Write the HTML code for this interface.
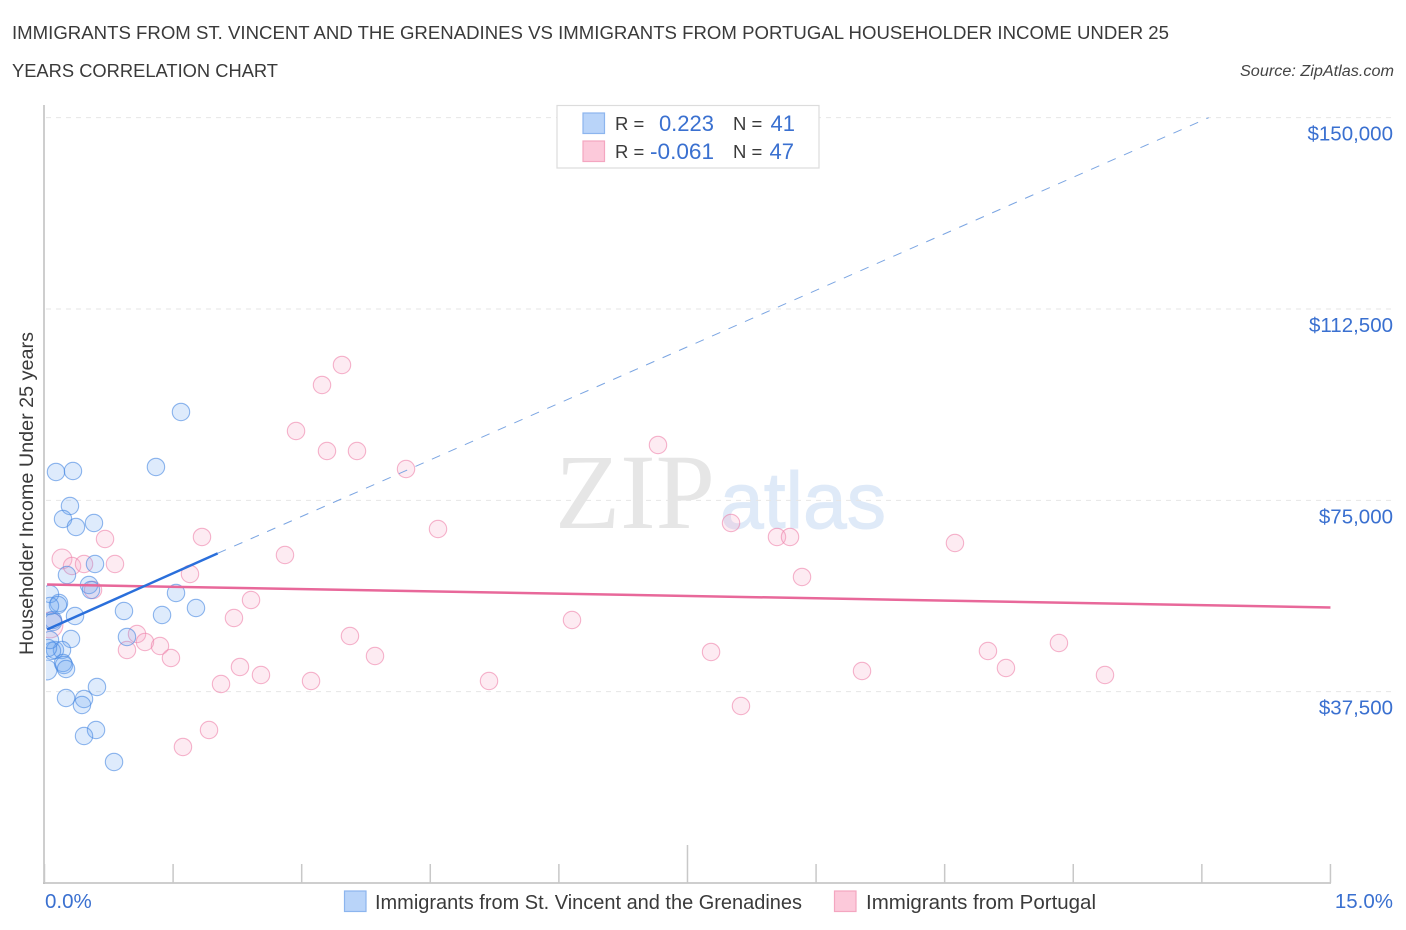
<!DOCTYPE html>
<html lang="en">
<head>
<meta charset="utf-8">
<title>Householder Income Under 25 Years Correlation Chart</title>
<style>
html,body{margin:0;padding:0;background:#fff;width:1406px;height:930px;overflow:hidden}
svg{display:block;font-family:"Liberation Sans",sans-serif}
</style>
</head>
<body>
<svg id="chart" width="1406" height="930" viewBox="0 0 1406 930" xmlns="http://www.w3.org/2000/svg">
  <defs>
    <clipPath id="plot-clip"><rect x="46" y="100" width="1350" height="783"/></clipPath>
  </defs>
  <rect width="1406" height="930" fill="#ffffff"/>
  <text x="12" y="39" font-size="18.5" fill="#3a3a3a" textLength="1157" lengthAdjust="spacingAndGlyphs">IMMIGRANTS FROM ST. VINCENT AND THE GRENADINES VS IMMIGRANTS FROM PORTUGAL HOUSEHOLDER INCOME UNDER 25</text>
  <text x="12" y="77" font-size="18.5" fill="#3a3a3a" textLength="266" lengthAdjust="spacingAndGlyphs">YEARS CORRELATION CHART</text>
  <text x="1394" y="76" font-size="15.5" font-style="italic" fill="#444" text-anchor="end" textLength="154" lengthAdjust="spacingAndGlyphs">Source: ZipAtlas.com</text>

  <text x="555" y="528" font-family="'Liberation Serif',serif" font-size="107" fill="#e6e6e6" textLength="160" lengthAdjust="spacingAndGlyphs">ZIP</text>
  <text x="720" y="528" font-size="80" fill="#dfeaf8" stroke="#dfeaf8" stroke-width="1" textLength="166" lengthAdjust="spacingAndGlyphs">atlas</text>

  <g id="grid"></g>
  <g id="axes"></g>
  <g id="marks" clip-path="url(#plot-clip)"></g>
  <g id="trends"></g>
  <g id="labels"></g>

  <text transform="translate(33,493.5) rotate(-90)" font-size="19" fill="#3a3a3a" text-anchor="middle" textLength="323" lengthAdjust="spacingAndGlyphs">Householder Income Under 25 years</text>

  <g>
    <rect x="557" y="105.500" width="262" height="62.500" fill="#fff" stroke="#dcdcdc" stroke-width="1.200"/>
    <rect x="583" y="113" width="21.500" height="20.500" fill="#b9d4f9" stroke="#8cb5ee" stroke-width="1.200"/>
    <rect x="583" y="141" width="21.500" height="20.500" fill="#fcc9da" stroke="#f4a6c0" stroke-width="1.200"/>
    <text x="615" y="130" font-size="18.500" fill="#3a3a3a">R =</text>
    <text x="714" y="131" font-size="22" fill="#3a70d0" text-anchor="end">0.223</text>
    <text x="733" y="130" font-size="18.500" fill="#3a3a3a">N =</text>
    <text x="795" y="131" font-size="22" fill="#3a70d0" text-anchor="end">41</text>
    <text x="615" y="158" font-size="18.500" fill="#3a3a3a">R =</text>
    <text x="650" y="159" font-size="22" fill="#3a70d0" textLength="64" lengthAdjust="spacingAndGlyphs">-0.061</text>
    <text x="733" y="158" font-size="18.500" fill="#3a3a3a">N =</text>
    <text x="794" y="159" font-size="22" fill="#3a70d0" text-anchor="end">47</text>
  </g>

  <g>
    <g>
      <rect x="344.500" y="891" width="21.500" height="20.500" fill="#b9d4f9" stroke="#8cb5ee" stroke-width="1.200"/>
      <text x="375" y="909" font-size="20" fill="#3a3a3a" textLength="427" lengthAdjust="spacingAndGlyphs">Immigrants from St. Vincent and the Grenadines</text>
    </g>
    <g>
      <rect x="834.500" y="891" width="21.500" height="20.500" fill="#fcc9da" stroke="#f4a6c0" stroke-width="1.200"/>
      <text x="866" y="909" font-size="20" fill="#3a3a3a" textLength="230" lengthAdjust="spacingAndGlyphs">Immigrants from Portugal</text>
    </g>
  </g>
</svg>
<script>
const yTicks = [150000, 112500, 75000, 37500];
const yTickLabels = ["$150,000", "$112,500", "$75,000", "$37,500"];
const xTicks = [0, 1.5, 3, 4.5, 6, 7.5, 9, 10.5, 12, 13.5, 15];
const xEndLabels = ["0.0%", "15.0%"];

const stVincentPct = [0.134,0.332,1.30,0.297,0.216,0.367,0.577,0.589,0.262,0.519,0.542,1.534,1.767,0.927,1.371,0.356,0.169,0.064,0.157,0.099,0.309,0.962,0.122,0.204,0.087,0.216,0.227,0.251,0.029,0.251,0.612,0.461,0.437,0.601,0.461,0.811,1.592,0.064,0.099,0.041,0.064];
const stVincentIncome = [80560,80750,81540,73890,71340,69780,70560,62520,60370,58410,57430,56840,53900,53310,52530,52330,54880,56640,54490,51550,47820,48220,45670,45670,45500,43120,42730,41940,41750,36260,38420,36060,34890,29990,28810,23720,92320,54300,51160,46060,47630];
const stVincentWeight = [1,1,1,1,1,1,1,1,1,1,1,1,1,1,1,1,1,1,1,1,1,1,1,1,1,1,1,1,1.3,1,1,1,1,1,1,1,1,1,1,1,1];

const portugalPct = [3.47,3.237,2.934,3.295,3.645,4.217,7.156,4.59,8.008,1.837,0.706,2.805,8.544,8.696,10.62,8.836,0.204,0.321,0.461,0.822,1.697,0.566,2.409,2.21,6.153,1.079,3.563,0.962,1.172,1.347,1.475,3.855,7.775,11.005,11.833,11.215,9.536,12.37,2.28,2.525,3.109,5.185,2.059,8.124,1.919,1.615,0.064];
const portugalIncome = [101530,97610,88590,84670,84670,81140,85850,69380,70560,67820,67420,64290,67820,67820,66640,59980,63500,62130,62520,62520,60560,57430,55470,51940,51550,48800,48410,45670,47240,46450,44100,44490,45280,45470,47040,42140,41550,40770,42340,40770,39590,39590,39000,34690,29990,26660,50570];
const portugalWeight = [1,1,1,1,1,1,1,1,1,1,1,1,1,1,1,1,1.3,1,1,1,1,1,1,1,1,1,1,1,1,1,1,1,1,1,1,1,1,1,1,1,1,1,1,1,1,1,2.2];

const stVincentTrendPct = [0.03, 2.02, 13.58];
const stVincentTrendIncome = [49690, 64610, 150000];
const portugalTrendPct = [0.03, 15];
const portugalTrendIncome = [58500, 54000];

const NS = "http://www.w3.org/2000/svg";
const xScale = (pct) => 44.5 + pct * 85.73;
const yScale = (income) => 883 - income * 0.0051022;

const gridGroup = document.getElementById("grid");
const axesGroup = document.getElementById("axes");
const marksGroup = document.getElementById("marks");
const trendsGroup = document.getElementById("trends");
const labelsGroup = document.getElementById("labels");

function makeLine(x1, y1, x2, y2, stroke, width, dash) {
  const el = document.createElementNS(NS, "line");
  el.setAttribute("x1", x1);
  el.setAttribute("y1", y1);
  el.setAttribute("x2", x2);
  el.setAttribute("y2", y2);
  el.setAttribute("stroke", stroke);
  el.setAttribute("stroke-width", width);
  if (dash) el.setAttribute("stroke-dasharray", dash);
  return el;
}

function makeText(x, y, content, anchor) {
  const el = document.createElementNS(NS, "text");
  el.setAttribute("x", x);
  el.setAttribute("y", y);
  el.setAttribute("font-size", "20.5");
  el.setAttribute("fill", "#3a70d0");
  el.setAttribute("text-anchor", anchor);
  el.textContent = content;
  return el;
}

yTicks.forEach((tick, i) => {
  const y = yScale(tick);
  const grid = makeLine(46, y, 1393, y, "#e6e6e6", 1, "5 5");
  
  
  gridGroup.appendChild(grid);
  const label = makeText(1393, y + 23, yTickLabels[i], "end");
  
  
  labelsGroup.appendChild(label);
});

const leftAxis = makeLine(44, 105, 44, 884, "#bdbdbd", 1.5);


axesGroup.appendChild(leftAxis);

const bottomAxis = makeLine(43, 883, 1331, 883, "#bdbdbd", 1.5);


axesGroup.appendChild(bottomAxis);

xTicks.forEach((tick) => {
  const x = xScale(tick);
  const top = tick === 7.5 ? 845 : 864;
  const mark = makeLine(x, top, x, 883, "#c8c8c8", 1.5);
  
  
  axesGroup.appendChild(mark);
});

const xStartLabel = makeText(45, 908, xEndLabels[0], "start");


labelsGroup.appendChild(xStartLabel);

const xEndLabel = makeText(1393, 908, xEndLabels[1], "end");


labelsGroup.appendChild(xEndLabel);

function drawPoints(pcts, incomes, weights, fill, stroke, name) {
  pcts.forEach((pct, i) => {
    const c = document.createElementNS(NS, "circle");
    c.setAttribute("cx", xScale(pct));
    c.setAttribute("cy", yScale(incomes[i]));
    c.setAttribute("r", 8.7 * Math.sqrt(weights[i]));
    c.setAttribute("fill", fill);
    c.setAttribute("stroke", stroke);
    c.setAttribute("stroke-width", "1.1");
    
    
    marksGroup.appendChild(c);
  });
}

drawPoints(portugalPct, portugalIncome, portugalWeight, "rgba(247,165,195,0.22)", "rgba(238,130,170,0.6)", "portugal-point");
drawPoints(stVincentPct, stVincentIncome, stVincentWeight, "rgba(105,165,240,0.22)", "rgba(70,135,225,0.6)", "st-vincent-point");

const portugalTrend = makeLine(xScale(portugalTrendPct[0]), yScale(portugalTrendIncome[0]), xScale(portugalTrendPct[1]), yScale(portugalTrendIncome[1]), "#e8689a", 2.5);


trendsGroup.appendChild(portugalTrend);

const stVincentSolid = makeLine(xScale(stVincentTrendPct[0]), yScale(stVincentTrendIncome[0]), xScale(stVincentTrendPct[1]), yScale(stVincentTrendIncome[1]), "#2a6fdb", 2.5);


trendsGroup.appendChild(stVincentSolid);

const stVincentDashed = makeLine(xScale(stVincentTrendPct[1]), yScale(stVincentTrendIncome[1]), xScale(stVincentTrendPct[2]), yScale(stVincentTrendIncome[2]), "#7ba5e2", 1, "9 9");


trendsGroup.appendChild(stVincentDashed);
</script>
</body>
</html>
